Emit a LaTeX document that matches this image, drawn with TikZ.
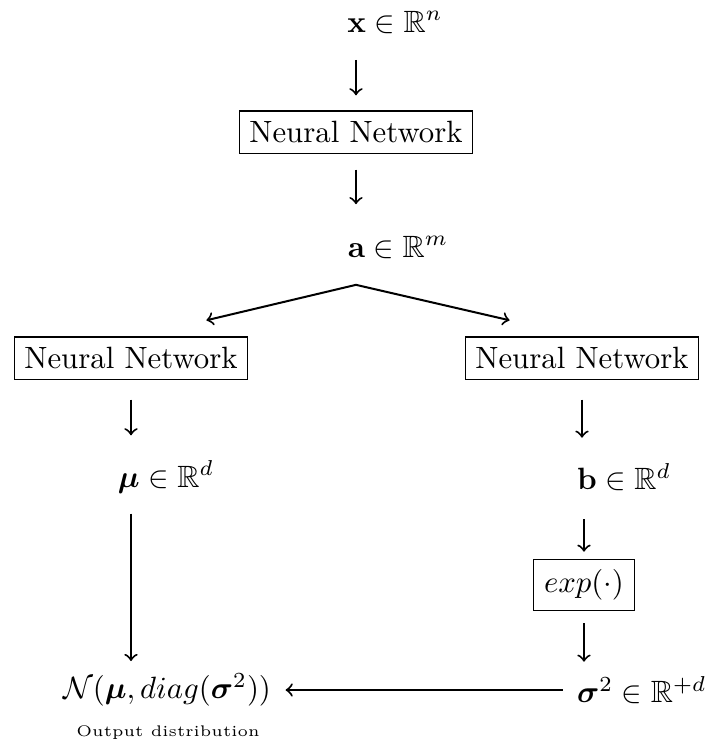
\documentclass[tikz,border=0pt]{standalone}
\usepackage{amsmath,amssymb,bm}
\usetikzlibrary{calc}
\begin{document}
\begin{tikzpicture}[x=0.3247pt,y=-0.3247pt,
  box/.style={draw,inner sep=0.333em},
  txt/.style={inner sep=0pt},
  arr/.style={->,line width=0.65pt}]
\useasboundingbox (0,0) rectangle (709,746);
\node[txt] (xin) at (395,22) {$\mathbf{x}\in\mathbb{R}^n$};
\node[box] (nn1) at (356,132) {Neural Network};
\node[txt] (a) at (398,247) {$\mathbf{a}\in\mathbb{R}^m$};
\node[box] (nnL) at (131,358) {Neural Network};
\node[box] (nnR) at (582,358) {Neural Network};
\node[txt] (mu) at (166,477) {$\bm{\mu}\in\mathbb{R}^d$};
\node[txt] (b) at (624,477) {$\mathbf{b}\in\mathbb{R}^d$};
\node[box] (expn) at (584,585) {$exp(\cdot)$};
\node[txt] (N) at (167,690) {$\mathcal{N}(\bm{\mu},diag(\bm{\sigma}^2))$};
\node[txt,anchor=east] (sig) at (707,690) {$\bm{\sigma}^2\in\mathbb{R}^{+d}$};
\node[txt] (outd) at (168,733) {\tiny Output distribution};
\coordinate (apex) at (a.south -| nn1.south);
\coordinate (apex) at ([yshift=-26*0.3247pt]apex);
% arrows
\draw[arr] ([yshift=-26*0.3247pt]xin.south -| nn1.north) -- ([yshift=15*0.3247pt]nn1.north);
\draw[arr] ([yshift=-16*0.3247pt]nn1.south) -- ([yshift=31*0.3247pt]nn1.south |- a.north);
\draw[arr] (apex) -- ([xshift=-42*0.3247pt,yshift=16*0.3247pt]nnL.north east);
\draw[arr] (apex) -- ([xshift=45*0.3247pt,yshift=16*0.3247pt]nnR.north west);
\draw[arr] ([yshift=-20*0.3247pt]nnL.south) -- ([yshift=25*0.3247pt]nnL.south |- mu.north);
\draw[arr] ([yshift=-20*0.3247pt]nnR.south) -- ([yshift=25*0.3247pt]nnR.south |- b.north);
\draw[arr] ([yshift=-20*0.3247pt]nnL.south |- mu.south) -- ([yshift=12*0.3247pt]nnL.south |- N.north);
\draw[arr] ([yshift=-28*0.3247pt]expn.north |- b.south) -- ([yshift=7*0.3247pt]expn.north);
\draw[arr] ([yshift=-12*0.3247pt]expn.south) -- ([yshift=14*0.3247pt]expn.south |- sig.north);
\draw[arr] ([xshift=-14*0.3247pt]sig.west) -- ([xshift=14*0.3247pt]N.east);
\end{tikzpicture}
\end{document}
